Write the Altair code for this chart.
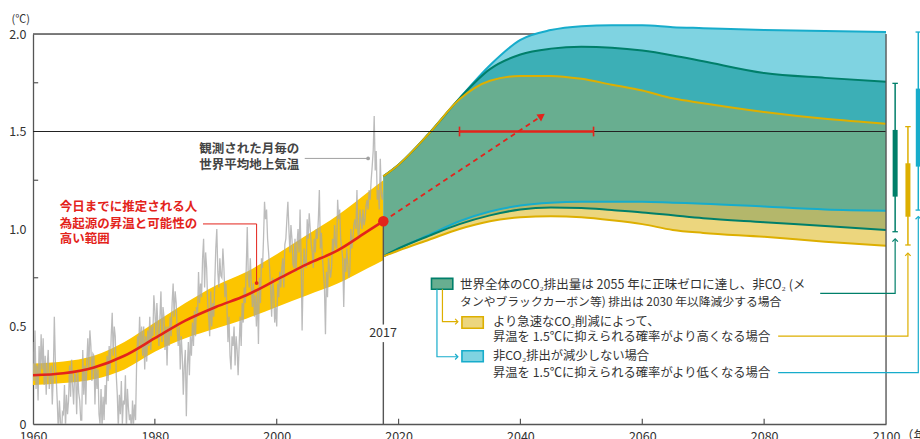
import altair as alt
import pandas as pd

# ---------------------------------------------------------------- data
# Observed global mean surface temperature (six samples per year), degC vs 1850-1900
obs_start = 1960.0
obs_step = 1 / 6
obs_temp = [
    0.42, 0.22, 0.48, 0.18, 0.30, 0.12,   0.40, 0.25, 0.46, 0.28, 0.44, 0.20,
    0.35, 0.15, 0.30, 0.38, 0.18, 0.24,   0.30, 0.10, 0.25, 0.55, 0.32, 0.22,
    0.10, -0.05, 0.12, 0.02, -0.08, 0.06, 0.05, 0.20, -0.02, 0.15, 0.05, 0.12,
    0.30, 0.14, 0.33, 0.20, 0.10, 0.26,   0.25, 0.05, 0.28, 0.16, 0.12, 0.02,
    0.02, 0.38, 0.15, 0.30, 0.10, 0.32,   0.44, 0.28, 0.48, 0.40, 0.22, 0.36,
    0.35, 0.10, 0.30, 0.18, 0.28, 0.05,   0.00, 0.18, -0.02, 0.14, 0.02, 0.20,
    0.10, 0.35, 0.22, 0.40, 0.28, 0.45,   0.57, 0.35, 0.50, 0.45, 0.25, 0.15,
    -0.02, 0.15, 0.05, 0.22, 0.00, 0.12,  0.10, 0.25, -0.03, 0.18, 0.08, 0.02,
    0.05, -0.05, 0.12, 0.00, 0.10, 0.02,  0.30, 0.45, 0.38, 0.55, 0.40, 0.50,
    0.35, 0.50, 0.28, 0.45, 0.32, 0.48,   0.40, 0.55, 0.38, 0.50, 0.45, 0.66,
    0.58, 0.45, 0.62, 0.50, 0.40, 0.55,   0.68, 0.42, 0.60, 0.55, 0.38, 0.50,
    0.30, 0.50, 0.40, 0.55, 0.45, 0.62,   0.72, 0.55, 0.68, 0.62, 0.48, 0.40,
    0.50, 0.28, 0.45, 0.35, 0.15, 0.30,   0.38, 0.04, 0.30, 0.42, 0.25, 0.45,
    0.35, 0.52, 0.40, 0.58, 0.45, 0.60,   0.55, 0.78, 0.62, 0.72, 0.65, 0.85,
    0.95, 0.70, 0.88, 0.80, 0.62, 0.55,   0.45, 0.68, 0.50, 0.62, 0.55, 0.72,
    0.90, 1.00, 0.78, 0.70, 0.85, 0.76,   0.75, 0.90, 0.80, 0.65, 0.72, 0.60,
    0.42, 0.55, 0.35, 0.28, 0.45, 0.40,   0.50, 0.30, 0.45, 0.38, 0.25, 0.40,
    0.55, 0.40, 0.62, 0.52, 0.70, 0.62,   0.80, 1.01, 0.75, 0.70, 0.85, 0.72,
    0.60, 0.72, 0.55, 0.66, 0.50, 0.68,   0.41, 0.75, 0.62, 0.85, 0.80, 0.95,
    1.14, 1.05, 1.10, 0.95, 0.88, 0.80,   0.70, 0.55, 0.75, 0.68, 0.52, 0.60,
    0.50, 0.72, 0.65, 0.78, 0.70, 0.80,   0.85, 0.70, 0.92, 0.95, 1.05, 1.14,
    1.00, 0.88, 1.02, 0.95, 0.82, 0.80,   0.95, 0.78, 0.92, 1.00, 0.88, 1.10,
    0.85, 0.48, 0.75, 0.90, 0.82, 0.80,   1.05, 0.95, 1.08, 1.00, 0.92, 0.88,
    0.80, 0.95, 0.88, 1.00, 0.95, 1.05,   1.20, 0.90, 0.98, 0.85, 0.78, 0.70,
    0.46, 0.78, 0.65, 0.85, 0.80, 0.75,   0.80, 0.95, 0.88, 1.02, 0.92, 0.90,
    1.15, 1.05, 1.10, 0.95, 0.90, 0.85,   0.60, 0.85, 0.78, 0.90, 0.82, 0.75,
    0.78, 1.00, 0.90, 0.95, 1.02, 1.05,   1.00, 1.20, 0.98, 0.95, 1.10, 1.05,
    1.00, 1.10, 1.02, 1.05, 1.12, 1.15,   1.10, 1.20, 1.15, 1.25, 1.32, 1.40,
    1.58, 1.30, 1.40, 1.15, 1.20, 1.10,   1.36, 1.18, 1.15, 1.20,
]

# Human-induced warming to date: likely range and central estimate
hist_years = [1960, 1965, 1970, 1975, 1980, 1985, 1990, 1995, 2000, 2005, 2010, 2015, 2017.5]
hist_low = [0.20, 0.21, 0.23, 0.28, 0.37, 0.44, 0.49, 0.54, 0.60, 0.66, 0.72, 0.80, 0.84]
hist_mid = [0.25, 0.26, 0.29, 0.35, 0.44, 0.53, 0.60, 0.66, 0.74, 0.82, 0.89, 0.99, 1.04]
hist_high = [0.31, 0.32, 0.35, 0.42, 0.52, 0.62, 0.71, 0.78, 0.87, 0.97, 1.07, 1.19, 1.25]

# Likely ranges of future warming under three stylised pathways
proj_years = [2017.5, 2020, 2025, 2030, 2035, 2040, 2045, 2050, 2055, 2060, 2065, 2070, 2080, 2090, 2100]
green_hi = [1.27, 1.33, 1.49, 1.67, 1.82, 1.895, 1.925, 1.935, 1.93, 1.915, 1.89, 1.86, 1.80, 1.775, 1.755]
green_lo = [0.86, 0.90, 0.965, 1.025, 1.07, 1.10, 1.11, 1.108, 1.097, 1.085, 1.07, 1.055, 1.035, 1.015, 0.995]
yellow_hi = [1.27, 1.33, 1.49, 1.665, 1.76, 1.785, 1.785, 1.77, 1.74, 1.71, 1.67, 1.645, 1.60, 1.565, 1.54]
yellow_lo = [0.86, 0.89, 0.945, 1.00, 1.04, 1.06, 1.065, 1.06, 1.045, 1.025, 0.995, 0.98, 0.96, 0.935, 0.914]
blue_hi = [1.27, 1.33, 1.49, 1.67, 1.84, 1.97, 2.02, 2.04, 2.045, 2.045, 2.035, 2.03, 2.02, 2.015, 2.01]
blue_lo = [0.86, 0.90, 0.97, 1.04, 1.09, 1.12, 1.135, 1.14, 1.14, 1.14, 1.135, 1.13, 1.115, 1.10, 1.094]

# Warming in 2100 for each pathway: whisker low, box low, box high, whisker high
range_keys = ["green", "yellow", "blue"]
range_lo = [0.986, 0.918, 1.097]
range_q1 = [1.166, 1.063, 1.32]
range_q3 = [1.508, 1.337, 1.72]
range_hi = [1.747, 1.525, 2.01]

# Period during which 1.5 degC is likely reached at the current rate
cross_start, cross_end = 2030, 2052
now_year, now_value = 2017.5, 1.04
arrow_year, arrow_value = 2043.5, 1.58

y_ticks = [0, 0.5, 1.0, 1.5, 2.0]
y_minor = [0.25, 0.75, 1.25, 1.75]
x_ticks = [1960, 1980, 2000, 2020, 2040, 2060, 2080, 2100]

legend_lines = [
    "世界全体のCO₂排出量は 2055 年に正味ゼロに達し、非CO₂ (メ",
    "タンやブラックカーボン等) 排出は 2030 年以降減少する場合",
    "より急速なCO₂削減によって、",
    "昇温を 1.5℃に抑えられる確率がより高くなる場合",
    "非CO₂排出が減少しない場合",
    "昇温を 1.5℃に抑えられる確率がより低くなる場合",
]
red_note = ["今日までに推定される人", "為起源の昇温と可能性の", "高い範囲"]
grey_note = ["観測された月毎の", "世界平均地上気温"]

# ---------------------------------------------------------------- style
FONT = "Noto Sans CJK JP"
C_HIST = "#FCC500"
C_RED = "#E3231B"
C_GREY = "#A6A6A6"
C_AXIS = "#555555"
C_LB, C_TEAL, C_GFILL, C_OLIVE, C_PY = "#7FD3E1", "#3CAFB6", "#68AE90", "#B4B76B", "#ECD67E"
L_BLUE, L_GREEN, L_YELLOW = "#17ACCB", "#007F6A", "#DDAF00"
range_color = {"green": L_GREEN, "yellow": L_YELLOW, "blue": L_BLUE}
range_slot = {"green": 2101.5, "yellow": 2103.6, "blue": 2105.3}

XS = alt.Scale(domain=[1960, 2100], nice=False, zero=False)
YS = alt.Scale(domain=[0, 2], nice=False, zero=False)
x_axis = alt.Axis(values=x_ticks, ticks=False, grid=False, labelPadding=6, labelFontSize=12.5,
                  labelColor="#333", domainColor=C_AXIS, domainWidth=1.3, title=None, format="d",
                  labelFlush=False, labelOverlap=False, labelFont=FONT)
y_axis = alt.Axis(values=y_ticks, ticks=False, grid=False, labelPadding=7, labelFontSize=12.5,
                  labelColor="#333", domainColor=C_AXIS, domainWidth=1.3, title=None,
                  labelFlush=False, labelOverlap=False, labelFont=FONT,
                  labelExpr="datum.value == 0 ? '0' : format(datum.value, '.1f')")


def X(f):
    return alt.X(f, type="quantitative", scale=XS, axis=x_axis)


def Y(f):
    return alt.Y(f, type="quantitative", scale=YS, axis=y_axis)


def base(df):
    return alt.Chart(df)


# ---------------------------------------------------------------- tables
obs = pd.DataFrame({"year": [obs_start + i * obs_step for i in range(len(obs_temp))], "t": obs_temp})
hist = pd.DataFrame({"year": hist_years, "lo": hist_low, "mid": hist_mid, "hi": hist_high})
proj = pd.DataFrame({"year": proj_years, "gh": green_hi, "gl": green_lo, "yh": yellow_hi,
                     "yl": yellow_lo, "bh": blue_hi, "bl": blue_lo})
ranges = pd.DataFrame({"key": range_keys, "lo": range_lo, "q1": range_q1, "q3": range_q3, "hi": range_hi})
ranges["x"] = ranges["key"].map(range_slot)
ranges["xa"] = ranges["x"] - 0.45
ranges["xb"] = ranges["x"] + 0.45
ranges["c"] = ranges["key"].map(range_color)

layers = []

# frame: top border, minor ticks on y, inward ticks on x
frame = pd.DataFrame({"x0": [1960], "x1": [2100], "y": [2.0]})
layers.append(base(frame).mark_rule(color=C_AXIS, strokeWidth=1.3).encode(X("x0"), x2="x1", y=Y("y")))

minor = pd.DataFrame({"y": y_minor, "x0": 1960, "x1": 1960.85})
layers.append(base(minor).mark_rule(color=C_AXIS, strokeWidth=1.2).encode(X("x0"), x2="x1", y=Y("y")))
xt = pd.DataFrame({"x": x_ticks[1:-1], "y0": 0, "y1": 0.027})
layers.append(base(xt).mark_rule(color=C_AXIS, strokeWidth=1.2).encode(X("x"), y=Y("y0"), y2="y1"))

# historical likely range and observations
layers.append(base(hist).mark_area(color=C_HIST, interpolate="monotone").encode(X("year"), Y("lo"), y2="hi"))
layers.append(base(obs).mark_line(color=C_GREY, strokeWidth=1.3, opacity=0.75, clip=True)
              .encode(X("year"), Y("t")))

# pathway ranges, painted region by region
area = lambda col: base(proj).mark_area(color=col, interpolate="monotone")
layers.append(area(C_LB).encode(X("year"), Y("bl"), y2="bh"))
layers.append(area(C_TEAL).encode(X("year"), Y("gl"), y2="gh"))
layers.append(area(C_PY).encode(X("year"), Y("yl"), y2="yh"))
layers.append(area(C_OLIVE).encode(X("year"), Y("gl"), y2="bl"))
layers.append(area(C_GFILL).encode(X("year"), Y("bl"), y2="yh"))
for col, fields in [(L_BLUE, ["bh", "bl"]), (L_GREEN, ["gh", "gl"]), (L_YELLOW, ["yh", "yl"])]:
    for f in fields:
        layers.append(base(proj).mark_line(color=col, strokeWidth=2, interpolate="monotone")
                      .encode(X("year"), Y(f)))

# 1.5 degC reference line and right border
l15 = pd.DataFrame({"x0": [1960], "x1": [2100], "y": [1.5]})
layers.append(base(l15).mark_rule(color="#222", strokeWidth=1.1).encode(X("x0"), x2="x1", y=Y("y")))
rb = pd.DataFrame({"x": [2100], "y0": [0], "y1": [2.0]})
layers.append(base(rb).mark_rule(color=C_AXIS, strokeWidth=1.3).encode(X("x"), y=Y("y0"), y2="y1"))

# present-day marker line (split around its label)
vl = pd.DataFrame({"x": [now_year, now_year], "y0": [0, 0.51], "y1": [0.42, now_value]})
layers.append(base(vl).mark_rule(color=C_AXIS, strokeWidth=1.4).encode(X("x"), y=Y("y0"), y2="y1"))
lab17 = pd.DataFrame({"x": [now_year - 0.05], "y": [0.467], "t": ["2017"]})
layers.append(base(lab17).mark_text(font=FONT, fontSize=12.5, color="#333", baseline="middle")
              .encode(X("x"), Y("y"), text="t"))

# central estimate
layers.append(base(hist).mark_line(color=C_RED, strokeWidth=2.6, interpolate="monotone")
              .encode(X("year"), Y("mid")))

# dashed extrapolation arrow
arr = pd.DataFrame({"x0": [now_year], "y0": [now_value], "x1": [arrow_year], "y1": [arrow_value]})
layers.append(base(arr).mark_rule(color=C_RED, strokeWidth=1.8, strokeDash=[5, 4])
              .encode(X("x0"), Y("y0"), x2="x1", y2="y1"))
head = pd.DataFrame({"x": [arrow_year], "y": [arrow_value]})
layers.append(base(head).mark_point(shape="triangle-up", filled=True, color=C_RED, size=70, angle=56, opacity=1)
              .encode(X("x"), Y("y")))
dot = pd.DataFrame({"x": [now_year], "y": [now_value]})
layers.append(base(dot).mark_circle(color=C_RED, size=110, opacity=1).encode(X("x"), Y("y")))

# 1.5 degC crossing window
cw = pd.DataFrame({"x0": [cross_start], "x1": [cross_end], "y": [1.5]})
layers.append(base(cw).mark_rule(color=C_RED, strokeWidth=2.4).encode(X("x0"), x2="x1", y=Y("y")))
caps = pd.DataFrame({"x": [cross_start, cross_end], "y0": 1.475, "y1": 1.525})
layers.append(base(caps).mark_rule(color=C_RED, strokeWidth=1.6).encode(X("x"), y=Y("y0"), y2="y1"))

# annotations
rn = pd.DataFrame({"x": 1964.4, "y": [1.111, 1.026, 0.947], "t": red_note})
layers.append(base(rn).mark_text(font=FONT, fontSize=12.5, fontWeight="bold", color=C_RED, align="left",
                                 baseline="middle").encode(X("x"), Y("y"), text="t"))
rp = pd.DataFrame({"x": [1987.9, 1996.7, 1996.7], "y": [1.026, 1.026, 0.723], "o": [0, 1, 2]})
layers.append(base(rp).mark_line(color=C_RED, strokeWidth=1).encode(X("x"), Y("y"), order="o"))
layers.append(base(rp.tail(1)).mark_circle(color=C_RED, size=14, opacity=1).encode(X("x"), Y("y")))

gn = pd.DataFrame({"x": 1987.3, "y": [1.409, 1.328], "t": grey_note})
layers.append(base(gn).mark_text(font=FONT, fontSize=12.5, fontWeight="bold", color="#444", align="left",
                                 baseline="middle").encode(X("x"), Y("y"), text="t"))
gp = pd.DataFrame({"x": [2004.6, 2015.0], "y": [1.362, 1.362], "o": [0, 1]})
layers.append(base(gp).mark_line(color="#A0A0A0", strokeWidth=1).encode(X("x"), Y("y"), order="o"))
layers.append(base(gp.tail(1)).mark_circle(color="#A0A0A0", size=14, opacity=1).encode(X("x"), Y("y")))

# legend swatches and texts
sw = pd.DataFrame({
    "x0": [2025.4, 2030.4, 2030.4], "x1": [2028.9, 2033.9, 2033.9],
    "y0": [0.691, 0.491, 0.319], "y1": [0.747, 0.550, 0.376],
    "f": [C_GFILL, C_PY, C_LB], "s": [L_GREEN, L_YELLOW, L_BLUE],
})
layers.append(base(sw).mark_rect(strokeWidth=1.6).encode(
    X("x0"), x2="x1", y=Y("y0"), y2="y1",
    fill=alt.Fill("f:N", scale=None), stroke=alt.Stroke("s:N", scale=None)))
lt = pd.DataFrame({
    "x": [2030.1, 2030.1, 2035.5, 2035.5, 2035.5, 2035.5],
    "y": [0.713, 0.627, 0.525, 0.445, 0.347, 0.263],
    "t": legend_lines,
    "fs": [12.5, 11.8, 12.3, 12.3, 12.3, 12.3],
})
layers.append(base(lt).mark_text(font=FONT, color="#333", align="left", baseline="middle")
              .encode(X("x"), Y("y"), text="t", size=alt.Size("fs:Q", scale=None)))

# connectors from the legend to the 2100 ranges
conn = pd.DataFrame({
    "g": ["g"] * 3 + ["y"] * 3 + ["b"] * 3 + ["sy"] * 3 + ["sb"] * 3,
    "o": [0, 1, 2] * 5,
    "x": [2089.2, 2101.5, 2101.5, 2082.3, 2103.6, 2103.6, 2082.3, 2105.3, 2105.3,
          2027.2, 2027.2, 2029.6, 2026.3, 2026.3, 2029.6],
    "y": [0.670, 0.670, 0.945, 0.451, 0.451, 0.872, 0.263, 0.263, 1.06,
          0.691, 0.525, 0.525, 0.691, 0.345, 0.345],
    "c": [L_GREEN] * 3 + [L_YELLOW] * 3 + [L_BLUE] * 3 + [L_YELLOW] * 3 + [L_BLUE] * 3,
})
layers.append(base(conn).mark_line(strokeWidth=1.2).encode(
    X("x"), Y("y"), order="o", detail="g:N", color=alt.Color("c:N", scale=None)))
up_heads = conn[(conn.o == 2) & conn.g.isin(["g", "y", "b"])]
layers.append(base(up_heads).mark_point(shape="M-1,0.7L0,-0.3L1,0.7", filled=False, size=30, strokeWidth=1.2,
                                        opacity=1).encode(X("x"), Y("y"), stroke=alt.Stroke("c:N", scale=None)))
rt_heads = conn[(conn.o == 2) & conn.g.isin(["sy", "sb"])]
layers.append(base(rt_heads).mark_point(shape="M-0.7,-1L0.3,0L-0.7,1", filled=False, size=30, strokeWidth=1.2,
                                        opacity=1).encode(X("x"), Y("y"), stroke=alt.Stroke("c:N", scale=None)))

# 2100 ranges
layers.append(base(ranges).mark_rule(strokeWidth=1.5).encode(
    X("x"), y=Y("lo"), y2="hi", color=alt.Color("c:N", scale=None)))
layers.append(base(ranges).mark_rule(strokeWidth=5).encode(
    X("x"), y=Y("q1"), y2="q3", color=alt.Color("c:N", scale=None)))
for f in ["lo", "hi"]:
    layers.append(base(ranges).mark_rule(strokeWidth=1.3).encode(
        X("xa"), x2="xb", y=Y(f), color=alt.Color("c:N", scale=None)))

# axis unit labels
units = pd.DataFrame({"x": [1958.0, 2100], "y": [2.072, 0], "t": ["(℃)", "（年）"]})
layers.append(base(units.head(1)).mark_text(font=FONT, fontSize=11, color="#333", baseline="middle")
              .encode(X("x"), Y("y"), text="t"))
layers.append(base(units.tail(1)).mark_text(font=FONT, fontSize=12.5, color="#333", align="left",
                                            baseline="top", dx=15, dy=6)
              .encode(X("x"), Y("y"), text="t"))

chart = alt.layer(*layers).properties(
    width=853, height=390,
    autosize=alt.AutoSizeParams(type="none"),
    padding={"left": 33, "top": 34, "right": 34, "bottom": 15},
    background="white",
).configure_view(stroke=None).configure(font=FONT)

chart.save("out.html", embed_options={"renderer": "svg", "actions": False})
